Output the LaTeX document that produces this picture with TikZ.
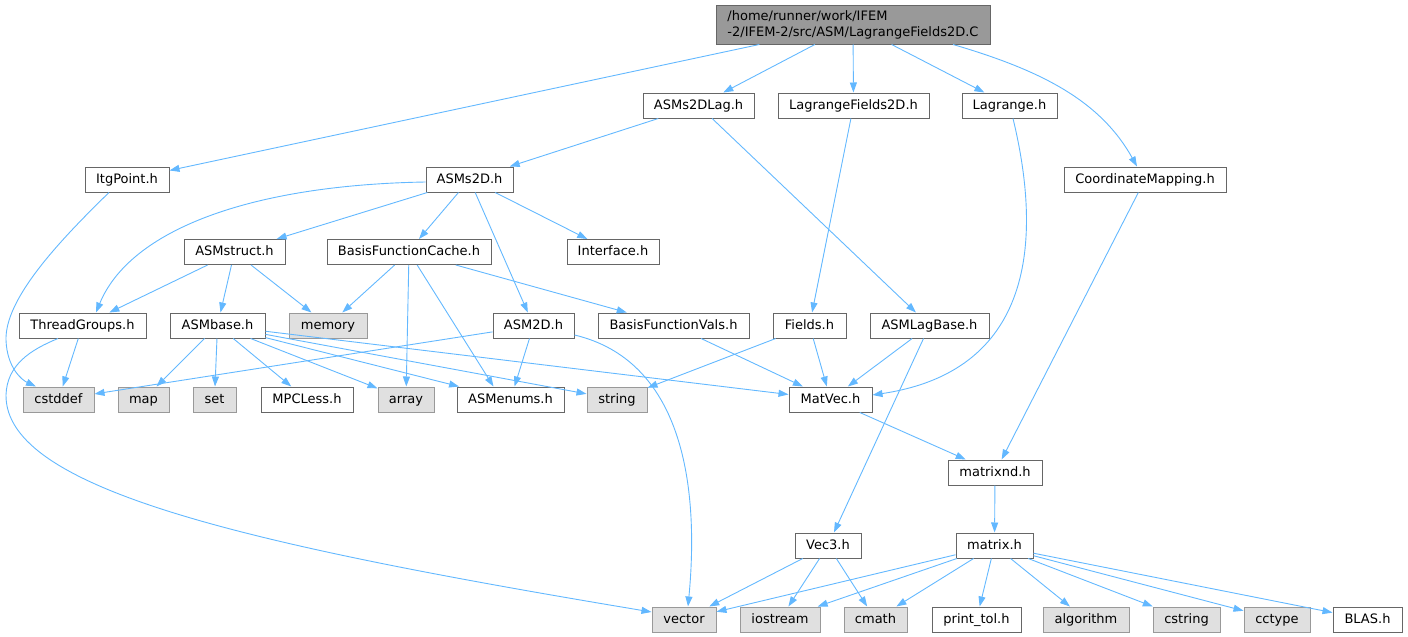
\documentclass[tikz,border=0pt]{standalone}
\usepackage{fontspec}
\setmainfont{DejaVu Sans}
\usetikzlibrary{arrows.meta}
\definecolor{edgec}{HTML}{63B8FF}
\definecolor{bordc}{HTML}{666666}
\definecolor{gfill}{HTML}{E0E0E0}
\definecolor{gbord}{HTML}{999999}
\definecolor{rootfill}{HTML}{999999}
\begin{document}
\begin{tikzpicture}[x=1pt,y=-1pt,
  every node/.style={font=\fontsize{13}{16}\selectfont},
  file/.style={draw=bordc, line width=1pt, fill=white, minimum height=25pt, inner sep=0pt, text height=10.5pt, text depth=3pt},
  sys/.style={draw=gbord, line width=1pt, fill=gfill, minimum height=25pt, inner sep=0pt, text height=10.5pt, text depth=3pt},
  rootn/.style={draw=bordc, line width=1pt, fill=rootfill, minimum height=39pt, inner sep=0pt, align=left},
  dep/.style={draw=edgec, line width=0.9pt, -{Triangle[length=10pt,width=7pt]}}]
\useasboundingbox (0,0) rectangle (1408,637);
% row 0
\node[rootn, minimum width=274pt] (root) at (853,24.5) {/home/runner/work/IFEM\\-2/IFEM-2/src/ASM/LagrangeFields2D.C};
% row 1
\node[file, minimum width=111pt] (asms2dlag) at (698.5,105.5) {ASMs2DLag.h};
\node[file, minimum width=151pt] (lf2d) at (853.5,105.5) {LagrangeFields2D.h};
\node[file, minimum width=95pt] (lagrange) at (1009.5,105.5) {Lagrange.h};
% row 2
\node[file, minimum width=84pt] (itg) at (127,179.5) {ItgPoint.h};
\node[file, minimum width=87pt] (asms2d) at (469.5,179.5) {ASMs2D.h};
\node[file, minimum width=162pt] (cmap) at (1145,179.5) {CoordinateMapping.h};
% row 3
\node[file, minimum width=101pt] (asmstruct) at (234.5,252) {ASMstruct.h};
\node[file, minimum width=164pt] (bfc) at (409,252) {BasisFunctionCache.h};
\node[file, minimum width=92pt] (iface) at (613,252) {Interface.h};
% row 4
\node[file, minimum width=127pt] (tg) at (82.5,325.5) {ThreadGroups.h};
\node[file, minimum width=95pt] (asmbase) at (217.5,325.5) {ASMbase.h};
\node[sys, minimum width=78pt] (memory) at (328,325.5) {memory};
\node[file, minimum width=81pt] (asm2d) at (533.5,325.5) {ASM2D.h};
\node[file, minimum width=151pt] (bfv) at (673.5,325.5) {BasisFunctionVals.h};
\node[file, minimum width=73pt] (fields) at (809.5,325.5) {Fields.h};
\node[file, minimum width=119pt] (lagbase) at (929.5,325.5) {ASMLagBase.h};
% row 5
\node[sys, minimum width=71pt] (cstddef) at (58.5,399.5) {cstddef};
\node[sys, minimum width=51pt] (map) at (143.5,399.5) {map};
\node[sys, minimum width=43pt] (set) at (214.5,399.5) {set};
\node[file, minimum width=92pt] (mpc) at (307,399.5) {MPCLess.h};
\node[sys, minimum width=56pt] (array) at (406,399.5) {array};
\node[file, minimum width=107pt] (asmenums) at (510.5,399.5) {ASMenums.h};
\node[sys, minimum width=60pt] (string) at (617,399.5) {string};
\node[file, minimum width=83pt] (matvec) at (830.5,399.5) {MatVec.h};
% row 6
\node[file, minimum width=94pt] (matrixnd) at (995,472.5) {matrixnd.h};
% row 7
\node[file, minimum width=66pt] (vec3) at (828,545.5) {Vec3.h};
\node[file, minimum width=77pt] (matrix) at (994.5,545.5) {matrix.h};
% row 8
\node[sys, minimum width=64pt] (vector) at (684,619.5) {vector};
\node[sys, minimum width=80pt] (iostream) at (780,619.5) {iostream};
\node[sys, minimum width=63pt] (cmath) at (875.5,619.5) {cmath};
\node[file, minimum width=89pt] (printtol) at (976.5,619.5) {print\_tol.h};
\node[sys, minimum width=86pt] (algorithm) at (1086,619.5) {algorithm};
\node[sys, minimum width=67pt] (cstring) at (1186.5,619.5) {cstring};
\node[sys, minimum width=66pt] (cctype) at (1277,619.5) {cctype};
\node[file, minimum width=69pt] (blas) at (1367.5,619.5) {BLAS.h};

% edges from root
\draw[dep] (root) -- (itg);
\draw[dep] (root) -- (asms2dlag);
\draw[dep] (root) -- (lf2d);
\draw[dep] (root) -- (lagrange);
\draw[dep] ([xshift=100pt]root.south) .. controls (1040,70) and (1100,100) .. ([xshift=-8pt]cmap.north);
% row 1
\draw[dep] (asms2dlag) -- (asms2d);
\draw[dep] (asms2dlag) -- (lagbase);
\draw[dep] (lf2d) -- (fields);
\draw[dep] ([xshift=3.5pt]lagrange.south) .. controls (1040,230) and (1040,370) .. ([yshift=4.5pt]matvec.east);
% row 2
\draw[dep] ([xshift=-18pt]itg.south) .. controls (55,245) and (5,300) .. (6,340) .. controls (7,368) and (22,380) .. ([xshift=-22.5pt]cstddef.north);
\draw[dep] ([yshift=-2.5pt]asms2d.west) .. controls (250,185) and (130,230) .. ([xshift=13.5pt]tg.north);
\draw[dep] (asms2d) -- (asmstruct);
\draw[dep] (asms2d) -- ([xshift=10pt]bfc.north);
\draw[dep] (asms2d) -- (iface);
\draw[dep] (asms2d) -- (asm2d);
\draw[dep] (cmap) -- (matrixnd);
% row 3
\draw[dep] (asmstruct) -- (tg);
\draw[dep] (asmstruct) -- (asmbase);
\draw[dep] (asmstruct) -- (memory);
\draw[dep] (bfc) -- (memory);
\draw[dep] (bfc) -- (array);
\draw[dep] (bfc) -- ([xshift=-17pt]asmenums.north);
\draw[dep] (bfc) -- (bfv);
% row 4
\draw[dep] (tg) -- (cstddef);
\draw[dep] ([xshift=-24.5pt]tg.south) .. controls (30,350) and (7,365) .. (6,395) .. controls (5,490) and (250,545) .. ([yshift=7.5pt]vector.west);
\draw[dep] (asmbase) -- (map);
\draw[dep] (asmbase) -- (set);
\draw[dep] (asmbase) -- (mpc);
\draw[dep] (asmbase) -- (array);
\draw[dep] (asmbase) -- (asmenums);
\draw[dep] (asmbase) -- (string);
\draw[dep] (asmbase) -- (matvec);
\draw[dep] (asm2d) -- (cstddef);
\draw[dep] (asm2d) -- (asmenums);
\draw[dep] ([yshift=-9.5pt]asm2d.east) .. controls (680,360) and (700,480) .. ([xshift=4pt]vector.north);
\draw[dep] (bfv) -- (matvec);
\draw[dep] (fields) -- (string);
\draw[dep] (fields) -- (matvec);
\draw[dep] (lagbase) -- (matvec);
\draw[dep] (lagbase) -- (vec3);
% lower rows
\draw[dep] (matvec) -- (matrixnd);
\draw[dep] (matrixnd) -- (matrix);
\draw[dep] (vec3) -- (vector);
\draw[dep] (vec3) -- (iostream);
\draw[dep] (vec3) -- (cmath);
\draw[dep] (matrix) -- (vector);
\draw[dep] (matrix) -- (iostream);
\draw[dep] (matrix) -- (cmath);
\draw[dep] (matrix) -- (printtol);
\draw[dep] (matrix) -- (algorithm);
\draw[dep] (matrix) -- (cstring);
\draw[dep] (matrix) -- (cctype);
\draw[dep] (matrix) -- (blas);
\end{tikzpicture}
\end{document}
